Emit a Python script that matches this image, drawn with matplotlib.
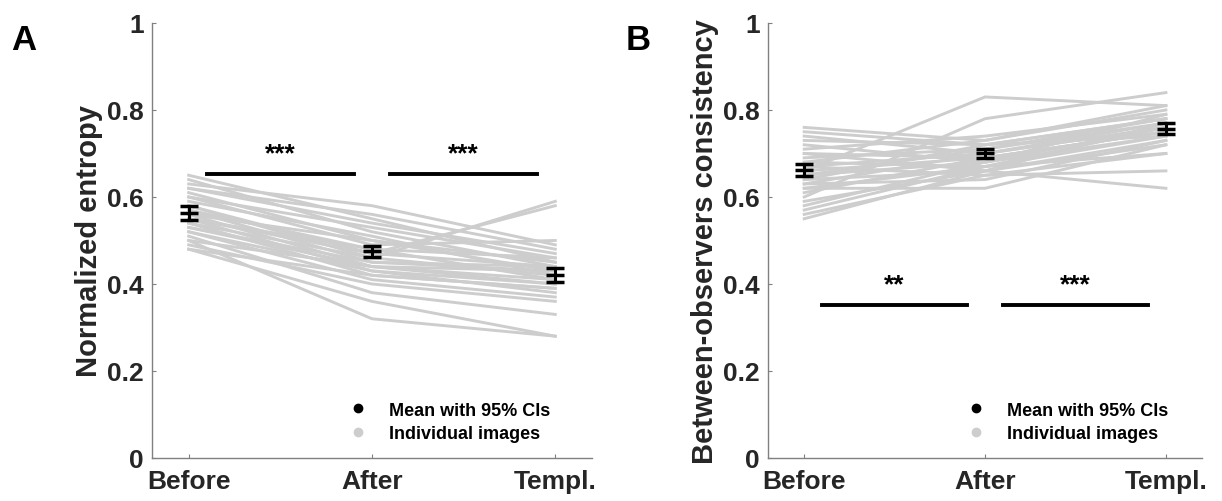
import numpy as np
import matplotlib
matplotlib.use("Agg")
import matplotlib.pyplot as plt
from matplotlib.lines import Line2D

plt.rcParams["font.family"] = ["Liberation Sans", "DejaVu Sans"]
plt.rcParams["font.weight"] = "bold"

# data
conditions = ["Before", "After", "Templ."]

entropy_before = [0.65, 0.64, 0.63, 0.62, 0.61, 0.60, 0.60, 0.59, 0.58, 0.58,
                  0.57, 0.57, 0.56, 0.56, 0.55, 0.55, 0.55, 0.54, 0.54, 0.53,
                  0.53, 0.52, 0.52, 0.51, 0.50, 0.50, 0.49, 0.48, 0.48, 0.62]
entropy_after = [0.55, 0.52, 0.58, 0.54, 0.50, 0.53, 0.49, 0.51, 0.46, 0.47,
                 0.48, 0.45, 0.50, 0.44, 0.47, 0.43, 0.48, 0.46, 0.42, 0.45,
                 0.44, 0.41, 0.43, 0.38, 0.44, 0.32, 0.40, 0.36, 0.42, 0.56]
entropy_templ = [0.45, 0.44, 0.49, 0.47, 0.43, 0.46, 0.50, 0.42, 0.59, 0.44,
                 0.41, 0.43, 0.45, 0.40, 0.58, 0.38, 0.46, 0.42, 0.39, 0.44,
                 0.41, 0.37, 0.40, 0.33, 0.43, 0.28, 0.36, 0.28, 0.39, 0.48]
entropy_mean = [0.563, 0.475, 0.420]
entropy_ci = [0.016, 0.012, 0.016]

consist_before = [0.76, 0.75, 0.74, 0.73, 0.72, 0.71, 0.70, 0.70, 0.69, 0.68,
                  0.68, 0.67, 0.67, 0.66, 0.66, 0.65, 0.65, 0.64, 0.64, 0.63,
                  0.63, 0.62, 0.62, 0.61, 0.60, 0.59, 0.58, 0.57, 0.56, 0.55]
consist_after = [0.73, 0.72, 0.70, 0.72, 0.68, 0.74, 0.69, 0.66, 0.71, 0.73,
                 0.67, 0.70, 0.65, 0.83, 0.69, 0.71, 0.68, 0.66, 0.72, 0.70,
                 0.64, 0.67, 0.62, 0.69, 0.78, 0.66, 0.68, 0.67, 0.65, 0.66]
consist_templ = [0.80, 0.78, 0.77, 0.74, 0.76, 0.79, 0.75, 0.72, 0.78, 0.81,
                 0.70, 0.76, 0.66, 0.81, 0.75, 0.77, 0.74, 0.62, 0.78, 0.76,
                 0.73, 0.74, 0.72, 0.75, 0.84, 0.73, 0.79, 0.76, 0.70, 0.77]
consist_mean = [0.662, 0.700, 0.757]
consist_ci = [0.014, 0.011, 0.013]

sig_A = [(1.1, 1.9, 0.652, "***"), (2.1, 2.9, 0.652, "***")]
sig_B = [(1.1, 1.9, 0.352, "**"), (2.1, 2.9, 0.352, "***")]

gray = "#cdcdcd"
x = np.arange(1, 4)

fig = plt.figure(figsize=(12.22, 5.02), dpi=100)
axA = fig.add_axes([0.1244, 0.0857, 0.360, 0.8665])
axB = fig.add_axes([0.6285, 0.0857, 0.3552, 0.8665])


def draw_panel(ax, before, after, templ, mean, ci, sigs, ylabel, leg_x):
    for b, a, t in zip(before, after, templ):
        ax.plot(x, [b, a, t], color=gray, lw=2.1, zorder=1)
    ax.errorbar(x, mean, yerr=ci, fmt="_", color="black", ms=13, mew=2.5,
                ecolor="black", elinewidth=2.2, capsize=6.5, capthick=2.5,
                zorder=3)
    for x0, x1, y, star in sigs:
        ax.plot([x0, x1], [y, y], color="black", lw=2.8, zorder=2)
        ax.text((x0 + x1) / 2, y + 0.048, star, ha="center", va="center",
                fontsize=19, fontweight="bold")
    ax.set_xlim(0.8, 3.2)
    ax.set_ylim(0, 1)
    ax.set_xticks(x)
    ax.set_xticklabels(conditions)
    ax.set_yticks([0, 0.2, 0.4, 0.6, 0.8, 1])
    ax.set_yticklabels(["0", "0.2", "0.4", "0.6", "0.8", "1"])
    ax.tick_params(direction="in", length=3, color="#808080",
                   labelsize=19, labelcolor="#262626")
    ax.tick_params(axis="x", pad=8)
    ax.tick_params(axis="y", pad=6)
    for s in ["top", "right"]:
        ax.spines[s].set_visible(False)
    for s in ["left", "bottom"]:
        ax.spines[s].set_color("#808080")
        ax.spines[s].set_linewidth(1.0)
    ax.set_ylabel(ylabel, fontsize=21, fontweight="bold", color="#262626",
                  labelpad=3)
    handles = [Line2D([], [], ls="", marker="o", color="black", ms=6),
               Line2D([], [], ls="", marker="o", color=gray, ms=6)]
    ax.legend(handles, ["Mean with 95% CIs", "Individual images"],
              loc="lower left", bbox_to_anchor=(leg_x, 0.008), frameon=False,
              fontsize=13, handlelength=1.0, handletextpad=1.2,
              labelspacing=0.35, borderpad=0.2)


draw_panel(axA, entropy_before, entropy_after, entropy_templ, entropy_mean,
           entropy_ci, sig_A, "Normalized entropy", 0.42)
draw_panel(axB, consist_before, consist_after, consist_templ, consist_mean,
           consist_ci, sig_B, "Between-observers consistency", 0.43)

fig.text(0.009, 0.9, "A", fontsize=25, fontweight="bold")
fig.text(0.512, 0.9, "B", fontsize=25, fontweight="bold")

fig.savefig("out.png", dpi=100)
